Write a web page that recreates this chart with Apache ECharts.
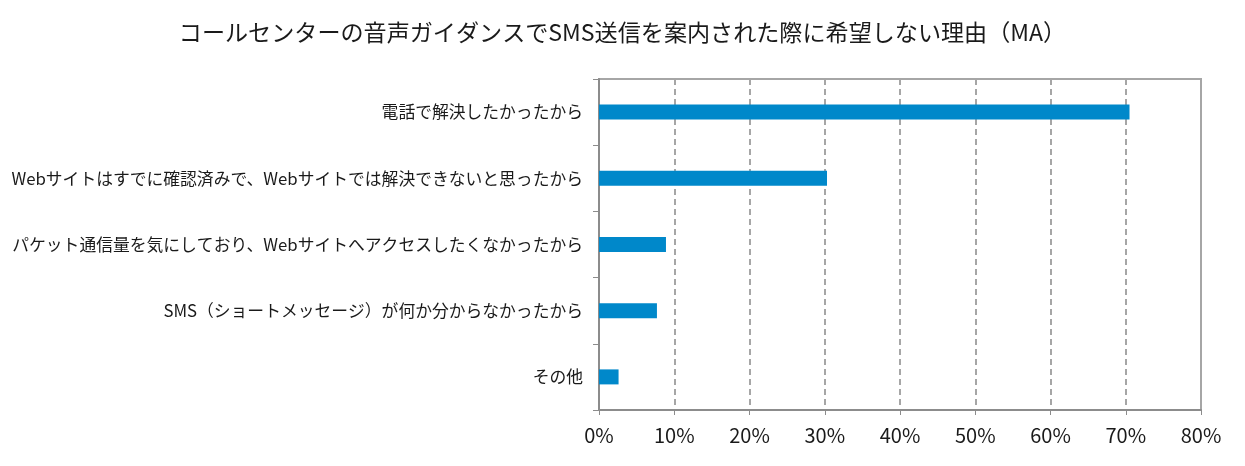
<!DOCTYPE html>
<html>
<head>
    <meta charset="utf-8">
    <title>希望しない理由</title>
    <script src="https://cdn.jsdelivr.net/npm/echarts@6/dist/echarts.min.js"></script>
    <style>
        html, body { margin: 0; padding: 0; background: #fff; }
        #main { width: 1245px; height: 466px; }
    </style>
</head>
<body>
<div id="main"></div>
<script type="text/javascript">
    // 項目（上から順）
    var categories = [
        '電話で解決したかったから',
        'Webサイトはすでに確認済みで、Webサイトでは解決できないと思ったから',
        'パケット通信量を気にしており、Webサイトへアクセスしたくなかったから',
        'SMS（ショートメッセージ）が何か分からなかったから',
        'その他'
    ];
    // 割合（%）
    var values = [70.5, 30.3, 8.9, 7.7, 2.6];
    var xTicks = [0, 10, 20, 30, 40, 50, 60, 70, 80];

    var myChart = echarts.init(document.getElementById('main'));
    var jpFont = '"Noto Sans CJK JP", "Noto Sans", sans-serif';

    var option = {
        animation: false,
        title: {
            text: 'コールセンターの音声ガイダンスでSMS送信を案内された際に希望しない理由（MA）',
            left: 'center',
            top: 16,
            textStyle: { fontFamily: jpFont, fontSize: 23.1, fontWeight: 'normal', color: '#1a1a1a' }
        },
        grid: { left: 599, right: 44, top: 79, bottom: 56 },
        xAxis: {
            type: 'value',
            min: xTicks[0],
            max: xTicks[xTicks.length - 1],
            interval: 10,
            axisLine: { show: true, lineStyle: { color: '#8c8c8c', width: 2 } },
            axisTick: { show: true, length: 5, lineStyle: { color: '#8c8c8c' } },
            axisLabel: {
                fontFamily: jpFont, fontSize: 20, color: '#1a1a1a', margin: 15,
                formatter: function (v) { return v + '%'; }
            },
            splitLine: { show: true, lineStyle: { color: '#a6a6a6', type: [6, 4], width: 2 } }
        },
        yAxis: {
            type: 'category',
            data: categories,
            inverse: true,
            axisLine: { show: true, lineStyle: { color: '#8c8c8c', width: 2 } },
            axisTick: { show: true, length: 6, lineStyle: { color: '#8c8c8c' } },
            axisLabel: { fontFamily: jpFont, fontSize: 16.8, color: '#1a1a1a', margin: 16 },
            splitLine: { show: false }
        },
        series: [
            {
                type: 'bar',
                data: values,
                barWidth: 15,
                itemStyle: { color: '#0088ca' }
            }
        ],
        graphic: [
            // 枠線（上・右）
            {
                type: 'rect',
                shape: { x: 599, y: 79, width: 602, height: 331 },
                style: { fill: 'none', stroke: '#a6a6a6', lineWidth: 2 },
                silent: true,
                z: -1
            }
        ]
    };

    myChart.setOption(option);
</script>
</body>
</html>
